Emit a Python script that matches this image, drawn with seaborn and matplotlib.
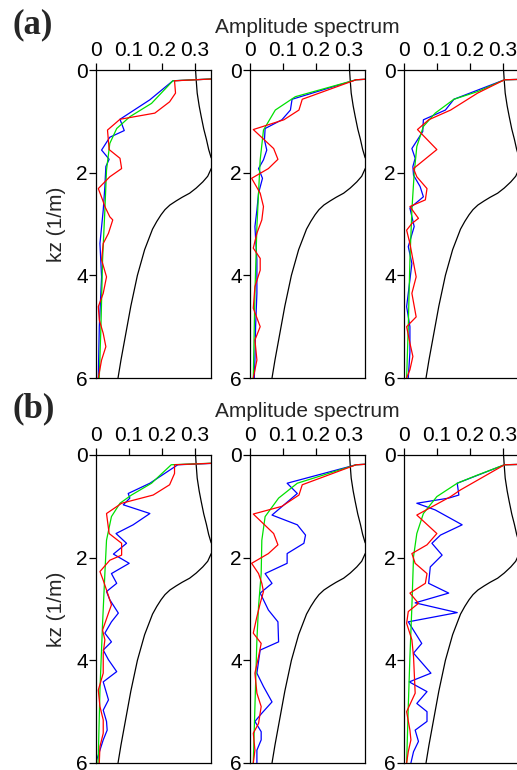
import matplotlib
matplotlib.use("Agg")
import matplotlib.pyplot as plt
import seaborn as sns

# theoretical curve (same in every panel)
kz_black = [0.0, 0.2, 0.45, 0.7, 0.9, 1.15, 1.35, 1.55, 1.7, 1.82, 1.93, 2.07, 2.18, 2.3, 2.4, 2.48, 2.55, 2.63, 2.72,
            2.82, 2.95, 3.1, 3.3, 3.5, 3.75, 4.0, 4.3, 4.6, 4.95, 5.3, 5.65, 6.0]
amp_black = [0.303, 0.305, 0.308, 0.314, 0.32, 0.328, 0.336, 0.343, 0.35, 0.36, 0.35, 0.34, 0.325, 0.305, 0.285, 0.262,
             0.244, 0.225, 0.21, 0.198, 0.185, 0.172, 0.16, 0.148, 0.137, 0.126, 0.116, 0.106, 0.096, 0.086, 0.076, 0.067]

# (a) panel 1
kz_a1_green = [0.1, 0.21, 0.65, 0.91, 1.14, 1.43, 1.95, 2.73, 3.7, 5.0, 6.0]
amp_a1_green = [0.6, 0.234, 0.169, 0.103, 0.063, 0.042, 0.032, 0.027, 0.02, 0.015, 0.01]
kz_a1_blue = [0.1, 0.21, 0.58, 0.96, 1.18, 1.31, 1.56, 1.66, 1.74, 1.88, 2.27, 2.73, 3.38, 4.03, 5.0, 6.0]
amp_a1_blue = [0.6, 0.234, 0.164, 0.073, 0.086, 0.042, 0.017, 0.03, 0.04, 0.03, 0.027, 0.022, 0.012, 0.017, 0.01, 0.007]
kz_a1_red = [0.1, 0.21, 0.45, 0.62, 0.84, 0.96, 1.17, 1.55, 1.72, 1.92, 2.08, 2.31, 2.53, 2.66, 2.86, 2.92, 3.18, 3.38,
             3.7, 4.03, 4.35, 4.61, 4.87, 5.13, 5.39, 5.65, 6.0]
amp_a1_red = [0.6, 0.239, 0.242, 0.224, 0.179, 0.073, 0.035, 0.04, 0.073, 0.078, 0.042, 0.007, 0.02, 0.027, 0.042, 0.051,
              0.038, 0.022, 0.017, 0.032, 0.022, 0.007, 0.01, 0.022, 0.03, 0.017, 0.007]

# (a) panel 2
kz_a2_green = [0.1, 0.19, 0.52, 0.78, 1.17, 1.75, 2.4, 3.05, 4.35, 6.0]
amp_a2_green = [0.6, 0.323, 0.138, 0.077, 0.041, 0.031, 0.026, 0.021, 0.015, 0.01]
kz_a2_blue = [0.1, 0.19, 0.57, 0.78, 0.97, 1.14, 1.36, 1.56, 1.75, 1.92, 2.11, 2.4, 2.73, 3.05, 3.7, 4.35, 5.0, 5.65, 6.0]
amp_a2_blue = [0.6, 0.323, 0.128, 0.123, 0.097, 0.046, 0.044, 0.051, 0.041, 0.026, 0.038, 0.026, 0.021, 0.015, 0.021, 0.021,
               0.017, 0.015, 0.013]
kz_a2_red = [0.1, 0.19, 0.57, 0.78, 0.97, 1.16, 1.53, 1.74, 1.92, 2.11, 2.4, 2.66, 2.92, 3.18, 3.47, 3.67, 3.9, 4.22, 4.64,
             5.0, 5.26, 5.65, 6.0]
amp_a2_red = [0.6, 0.323, 0.159, 0.149, 0.103, 0.01, 0.072, 0.085, 0.056, 0.005, 0.031, 0.041, 0.036, 0.021, 0.01, 0.031,
              0.031, 0.015, 0.01, 0.031, 0.015, 0.021, 0.01]

# (a) panel 3
kz_a3_green = [0.1, 0.19, 0.42, 0.57, 0.84, 1.1, 1.49, 2.01, 2.73, 3.7, 5.0, 6.0]
amp_a3_green = [0.9, 0.306, 0.224, 0.152, 0.095, 0.059, 0.039, 0.031, 0.024, 0.018, 0.013, 0.008]
kz_a3_blue = [0.1, 0.19, 0.57, 0.78, 0.97, 1.2, 1.33, 1.53, 1.72, 1.88, 2.05, 2.27, 2.47, 2.69, 3.05, 3.44, 3.77, 4.35,
              4.61, 5.0, 5.5, 6.0]
amp_a3_blue = [0.9, 0.306, 0.152, 0.126, 0.059, 0.057, 0.044, 0.024, 0.034, 0.027, 0.029, 0.049, 0.059, 0.018, 0.031, 0.013,
               0.024, 0.013, 0.008, 0.018, 0.018, 0.013]
kz_a3_red = [0.1, 0.19, 0.45, 0.78, 0.97, 1.16, 1.55, 1.92, 2.08, 2.31, 2.53, 2.66, 2.89, 2.99, 3.12, 3.38, 4.03, 4.35,
             4.81, 5.0, 5.32, 5.58, 5.84, 6.0]
amp_a3_red = [0.9, 0.306, 0.224, 0.142, 0.075, 0.041, 0.1, 0.029, 0.039, 0.07, 0.065, 0.018, 0.044, 0.024, 0.008, 0.018,
              0.037, 0.024, 0.037, 0.008, 0.018, 0.027, 0.018, 0.008]

# (b) panel 1
kz_b1_green = [0.1, 0.19, 0.55, 0.78, 0.94, 1.2, 1.66, 2.31, 3.28, 4.58, 5.88, 6.0]
amp_b1_green = [0.6, 0.229, 0.169, 0.108, 0.073, 0.047, 0.032, 0.027, 0.02, 0.012, 0.007, 0.006]
kz_b1_blue = [0.1, 0.19, 0.55, 0.75, 0.84, 0.97, 1.14, 1.36, 1.53, 1.72, 1.93, 2.11, 2.31, 2.5, 2.66, 2.82, 3.08, 3.25,
              3.47, 3.64, 3.8, 3.99, 4.22, 4.42, 4.77, 4.97, 5.19, 5.36, 5.55, 5.75, 5.94]
amp_b1_blue = [0.6, 0.249, 0.164, 0.098, 0.103, 0.083, 0.164, 0.113, 0.061, 0.093, 0.053, 0.101, 0.047, 0.063, 0.032, 0.042,
               0.068, 0.047, 0.027, 0.047, 0.022, 0.038, 0.063, 0.022, 0.038, 0.022, 0.032, 0.034, 0.022, 0.012, 0.002]
kz_b1_red = [0.1, 0.19, 0.36, 0.58, 0.78, 0.94, 1.14, 1.53, 1.72, 1.95, 2.05, 2.27, 2.44, 2.63, 2.92, 3.08, 3.41, 3.6,
             3.86, 4.25, 4.58, 4.9, 5.16, 5.42, 5.68, 6.0]
amp_b1_red = [0.6, 0.239, 0.239, 0.224, 0.174, 0.078, 0.032, 0.04, 0.078, 0.078, 0.042, 0.012, 0.022, 0.032, 0.047, 0.038,
              0.02, 0.027, 0.022, 0.022, 0.007, 0.012, 0.022, 0.022, 0.012, 0.01]

# (b) panel 2
kz_b2_green = [0.1, 0.19, 0.55, 0.84, 1.2, 1.66, 2.31, 2.95, 3.6, 4.9, 6.0]
amp_b2_green = [0.6, 0.323, 0.144, 0.087, 0.046, 0.036, 0.034, 0.026, 0.021, 0.015, 0.01]
kz_b2_blue = [0.1, 0.19, 0.55, 0.75, 1.17, 1.36, 1.56, 1.72, 1.92, 2.11, 2.31, 2.5, 2.69, 3.02, 3.25, 3.64, 3.8, 4.25,
              4.51, 4.81, 5.03, 5.19, 5.39, 5.55, 5.75, 6.0]
amp_b2_blue = [0.6, 0.323, 0.113, 0.144, 0.067, 0.144, 0.169, 0.164, 0.113, 0.113, 0.046, 0.067, 0.031, 0.056, 0.085,
               0.087, 0.031, 0.021, 0.041, 0.067, 0.036, 0.015, 0.034, 0.034, 0.021, 0.021]
kz_b2_red = [0.1, 0.19, 0.58, 0.78, 1.0, 1.15, 1.53, 1.75, 1.92, 2.11, 2.31, 2.5, 2.66, 2.89, 3.15, 3.47, 3.67, 3.93,
             4.25, 4.64, 4.9, 5.23, 5.42, 5.75, 6.0]
amp_b2_red = [0.6, 0.323, 0.159, 0.149, 0.097, 0.01, 0.072, 0.085, 0.056, 0.005, 0.026, 0.036, 0.041, 0.031, 0.021, 0.01,
              0.034, 0.026, 0.015, 0.021, 0.034, 0.026, 0.01, 0.015, 0.01]

# (b) panel 3
kz_b3_green = [0.1, 0.19, 0.39, 0.55, 0.81, 1.14, 1.53, 1.98, 2.95, 3.93, 4.9, 6.0]
amp_b3_green = [0.9, 0.306, 0.224, 0.162, 0.1, 0.059, 0.039, 0.029, 0.024, 0.018, 0.013, 0.008]
kz_b3_blue = [0.1, 0.19, 0.55, 0.78, 0.84, 0.94, 1.07, 1.36, 1.56, 1.72, 1.95, 2.18, 2.5, 2.69, 2.88, 3.07, 3.25, 3.67,
              3.86, 4.25, 4.42, 4.61, 4.84, 5.0, 5.19, 5.36, 5.58, 5.78, 6.0]
amp_b3_blue = [0.9, 0.306, 0.162, 0.167, 0.136, 0.039, 0.095, 0.177, 0.111, 0.085, 0.116, 0.08, 0.075, 0.136, 0.034, 0.162,
               0.013, 0.054, 0.029, 0.082, 0.016, 0.07, 0.039, 0.07, 0.07, 0.034, 0.044, 0.029, 0.021]
kz_b3_red = [0.1, 0.19, 0.68, 0.81, 1.17, 1.53, 1.75, 1.92, 2.11, 2.31, 2.5, 2.69, 2.89, 3.05, 3.28, 3.6, 3.93, 4.64,
             5.0, 5.36, 5.55, 5.78, 6.0]
amp_b3_red = [0.9, 0.306, 0.172, 0.142, 0.039, 0.1, 0.07, 0.024, 0.034, 0.07, 0.065, 0.018, 0.044, 0.013, 0.008, 0.024,
              0.029, 0.034, 0.008, 0.018, 0.021, 0.013, 0.008]

panels = [
    [(kz_a1_blue, amp_a1_blue), (kz_a1_green, amp_a1_green), (kz_a1_red, amp_a1_red)],
    [(kz_a2_blue, amp_a2_blue), (kz_a2_green, amp_a2_green), (kz_a2_red, amp_a2_red)],
    [(kz_a3_blue, amp_a3_blue), (kz_a3_green, amp_a3_green), (kz_a3_red, amp_a3_red)],
    [(kz_b1_blue, amp_b1_blue), (kz_b1_green, amp_b1_green), (kz_b1_red, amp_b1_red)],
    [(kz_b2_blue, amp_b2_blue), (kz_b2_green, amp_b2_green), (kz_b2_red, amp_b2_red)],
    [(kz_b3_blue, amp_b3_blue), (kz_b3_green, amp_b3_green), (kz_b3_red, amp_b3_red)],
]
colors = ["#0000ff", "#00e000", "#ff0000"]

sns.set_style("ticks")
plt.rcParams["font.family"] = ["Liberation Sans", "DejaVu Sans"]

fig = plt.figure(figsize=(5.17, 7.70), dpi=100)
lefts = [96 / 517, 250 / 517, 404 / 517]
bottoms = [1 - 378 / 770, 1 - 763 / 770]
w = 115 / 517
h = 308 / 770

for i, series in enumerate(panels):
    row, col = divmod(i, 3)
    ax = fig.add_axes([lefts[col], bottoms[row], w, h])
    sns.lineplot(x=amp_black, y=kz_black, sort=False, estimator=None, color="black", lw=0.9, ax=ax)
    for (kz, amp), c in zip(series, colors):
        sns.lineplot(x=amp, y=kz, sort=False, estimator=None, color=c, lw=0.9, ax=ax)
    ax.set_xlim(0, 0.35)
    ax.set_ylim(6, 0)
    ax.xaxis.tick_top()
    ax.set_xticks([0, 0.1, 0.2, 0.3])
    ax.set_xticklabels(["0", "0.1", "0.2", "0.3"])
    ax.set_yticks([0, 2, 4, 6])
    ax.set_yticklabels(["0", "2", "4", "6"])
    ax.tick_params(labelsize=15, length=5, width=0.9, pad=1, colors="black")
    ax.tick_params(axis="x", pad=2)
    for sp in ax.spines.values():
        sp.set_visible(True)
        sp.set_linewidth(0.9)
        sp.set_color("black")
    ax.set_xlabel("")
    if col == 0:
        ax.set_ylabel("kz (1/m)", fontsize=15, labelpad=7)
    else:
        ax.set_ylabel("")

for yb, lab in [(1 - 33 / 770, "(a)"), (1 - 417 / 770, "(b)")]:
    fig.text(307 / 517, yb, "Amplitude spectrum", ha="center", va="baseline", fontsize=15)
    fig.text(12 / 517, yb, lab, ha="left", va="baseline", fontsize=25, fontweight="bold",
             family="Liberation Serif")

fig.savefig("out.png", dpi=100)
